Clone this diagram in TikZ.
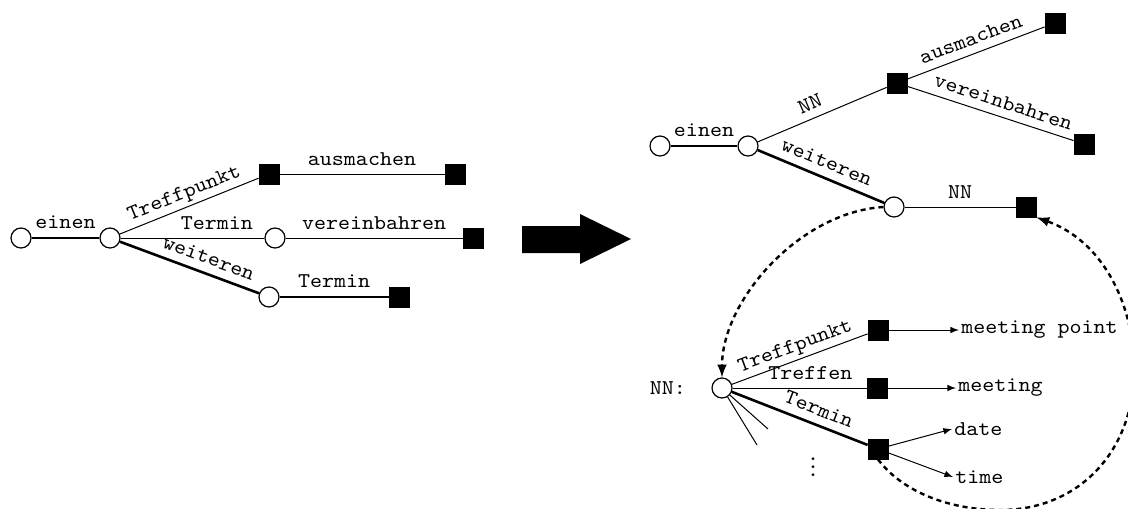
\documentclass[tikz,border=0pt]{standalone}
\usepackage{amssymb}
\usepackage{fontspec}
\setmonofont{lmmono10-regular.otf}[FakeStretch=1.09]
\usetikzlibrary{arrows, positioning}
\tikzstyle{zustand} = [draw, circle, fill=white, line width=0.6pt, minimum size=10pt, inner sep=0pt]
\tikzstyle{ende} = [draw, rectangle, fill=black, minimum size=10pt, inner sep=0pt]
\tikzstyle{wort} = [above, sloped, inner xsep=1pt, inner ysep=4pt, text depth=0pt]
\tikzstyle{kante} = [line width=0.5pt]
\tikzstyle{dick} = [line width=1.3pt]
\tikzstyle{sprung} = [line width=1.2pt, dash pattern=on 2.5pt off 2pt, -latex]
\tikzstyle{uebersetzung} = [anchor=west, inner sep=1pt]

\begin{document}
\begin{tikzpicture}[x=0.5pt, y=-0.5pt, font=\ttfamily\fontsize{10.5}{12.6}\selectfont]
	\path[use as bounding box] (0,0) rectangle (1128,508);
	\clip (0,0) rectangle (1128,508);
	% linker Baum
	\node [zustand] (a0) at (21,238) {};
	\node [zustand] (a1) at (110,238) {};
	\node [ende] (a2) at (269,174) {};
	\node [ende] (a3) at (455,174) {};
	\node [zustand] (a4) at (275,238) {};
	\node [ende] (a5) at (473,238) {};
	\node [zustand] (a6) at (269,297) {};
	\node [ende] (a7) at (399,297) {};
	\draw [dick] (a0) -- node[wort] {einen} (a1);
	\draw [kante] (a1) -- node[wort] {Treffpunkt} (a2);
	\draw [kante] (a2) -- node[wort] {ausmachen} (a3);
	\draw [kante] (a1) -- node[wort, pos=.67] {Termin} (a4);
	\draw [kante] (a4) -- node[wort] {vereinbahren} (a5);
	\draw [dick] (a1) -- node[wort, pos=.6] {weiteren} (a6);
	\draw [dick] (a6) -- node[wort] {Termin} (a7);
	% Pfeil
	\fill (522,226) -- (580,226) -- (580,214) -- (631,239) -- (580,264) -- (580,253) -- (522,253) -- cycle;
	% rechter Baum
	\node [zustand] (b0) at (660,146) {};
	\node [zustand] (b1) at (748,146) {};
	\node [ende] (b2) at (897,83) {};
	\node [ende] (b3) at (1055,23) {};
	\node [ende] (b4) at (1084,144) {};
	\node [zustand] (b5) at (894,207) {};
	\node [ende] (b6) at (1026,207) {};
	\draw [dick] (b0) -- node[wort] {einen} (b1);
	\draw [kante] (b1) -- node[wort, pos=.45] {NN} (b2);
	\draw [kante] (b2) -- node[wort] {ausmachen} (b3);
	\draw [kante] (b2) -- node[wort, pos=.55] {vereinbahren} (b4);
	\draw [dick] (b1) -- node[wort] {weiteren} (b5);
	\draw [kante] (b5) -- node[wort] {NN} (b6);
	% Lexikon NN
	\node [zustand] (nn) at (722,388) {};
	\node [left=11.5pt of nn, inner sep=1pt] (nnlbl) {NN:};
	\node [ende] (c1) at (878,330) {};
	\node [ende] (c2) at (877,388) {};
	\node [ende] (c3) at (878,449) {};
	\node [uebersetzung] (mp) at (959,330) {meeting point};
	\node [uebersetzung] (mt) at (956,388) {meeting};
	\node [uebersetzung] (dt) at (952,429) {date};
	\node [uebersetzung] (tm) at (953,477) {time};
	\coordinate (s1) at (768,429);
	\coordinate (s2) at (757,445);
	\node (punkte) at (813,461) {$\vdots$};
	\draw [kante] (nn) -- node[wort] {Treffpunkt} (c1);
	\draw [kante] (nn) -- node[wort, pos=.58] {Treffen} (c2);
	\draw [dick] (nn) -- node[wort, pos=.6] {Termin} (c3);
	\draw [kante] (nn.-42) -- (s1);
	\draw [kante] (nn.-58) -- (s2);
	\draw [kante, -latex] (c1) -- (mp.west);
	\draw [kante, -latex] (c2) -- (mt.west);
	\draw [kante, -latex] (c3) -- (dt.west);
	\draw [kante, -latex] (c3) -- (tm.west);
	% Spruenge
	\draw [sprung] (b5.west) .. controls (800,212) and (722,300) .. (nn.north);
	\draw [sprung] (c3.south) .. controls (905,495) and (955,510) .. (1000,510)
		.. controls (1080,510) and (1134,450) .. (1134,370)
		.. controls (1134,300) and (1100,240) .. (b6.south east);
\end{tikzpicture}
\end{document}
